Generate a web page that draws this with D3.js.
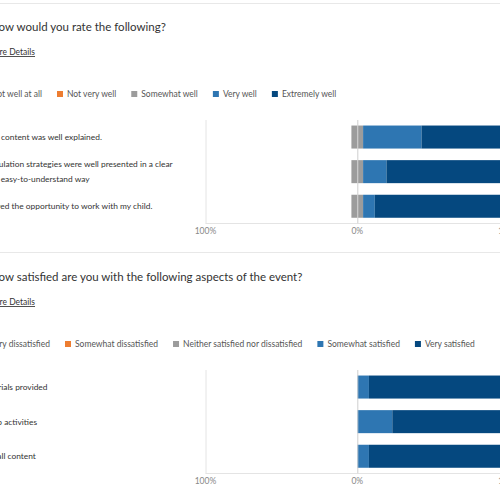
<!DOCTYPE html>
<html lang="en">
<head>
<meta charset="utf-8">
<title>Survey results</title>
<script src="https://cdn.jsdelivr.net/npm/d3@7"></script>
<style>
body { margin: 0; background: #fff; }
text { font-family: "Segoe UI", Lato, sans-serif; }
.title { font-size: 11.5px; fill: #333; }
.details { font-size: 8.5px; fill: #333; text-decoration: underline; }
.legend text { font-size: 8.5px; fill: #555; }
.label { font-size: 8.4px; fill: #333; }
.tick { font-size: 8.5px; fill: #888; }
.grid { stroke: #e4e4e4; stroke-width: 1px; }
.sep { stroke: #e8e8e8; stroke-width: 1px; }
</style>
</head>
<body>
<script>
// chart 1
var title1 = "How would you rate the following?";
var scale1 = ["Not well at all", "Not very well", "Somewhat well", "Very well", "Extremely well"];
var questions1 = [
  ["The content was well explained."],
  ["Regulation strategies were well presented in a clear", "and easy-to-understand way"],
  ["I loved the opportunity to work with my child."]
];
var values1 = [
  [0, 0, 7.7, 38.5, 53.8],
  [0, 0, 7.7, 15.4, 76.9],
  [0, 0, 7.7, 7.7, 84.6]
];

// chart 2
var title2 = "How satisfied are you with the following aspects of the event?";
var scale2 = ["Very dissatisfied", "Somewhat dissatisfied", "Neither satisfied nor dissatisfied", "Somewhat satisfied", "Very satisfied"];
var questions2 = [
  ["Materials provided"],
  ["Group activities"],
  ["Overall content"]
];
var values2 = [
  [0, 0, 0, 7.7, 92.3],
  [0, 0, 0, 23.1, 76.9],
  [0, 0, 0, 7.7, 92.3]
];

var ticks = [-100, 0, 100];
var colors = ["#c0392b", "#ed7d31", "#9c9c9c", "#2e76b2", "#05487f"];

var w = 500, h = 500;
var svg = d3.select("body").append("svg")
  .attr("width", w).attr("height", h);

svg.append("line").attr("class", "sep")
  .attr("x1", 0).attr("x2", w).attr("y1", 3.5).attr("y2", 3.5);
svg.append("line").attr("class", "sep")
  .attr("x1", 0).attr("x2", w).attr("y1", 252.5).attr("y2", 252.5);

function drawBlock(g, title, scale, questions, values, o) {
  g.append("text").attr("class", "title")
    .attr("x", o.textX).attr("y", o.top + 31).text(title);
  g.append("text").attr("class", "details")
    .attr("x", o.textX - 3).attr("y", o.top + 55).text("More Details");

  // legend, laid out from text widths
  var leg = g.append("g").attr("class", "legend");
  var cx = 0, pos = [];
  scale.forEach(function(s, i) {
    var t = leg.append("text").attr("x", cx + 10).attr("y", 3).text(s);
    var len = t.node().getComputedTextLength();
    leg.append("rect").attr("x", cx).attr("y", -3).attr("width", 6).attr("height", 6)
      .attr("fill", colors[i]);
    pos.push(t);
    cx += 10 + len + 15;
  });
  // shift so first item's text ends where the reference crop shows it
  var firstLen = pos[0].node().getComputedTextLength();
  leg.attr("transform", "translate(" + (o.legendEnd - 10 - firstLen) + "," + (o.top + 94) + ")");

  var x = d3.scaleLinear().domain([-100, 100]).range([205.5, 509]);
  var y = d3.scaleBand().domain(d3.range(questions.length))
    .range([o.top + 120, o.top + 223.3]).paddingInner(0.335).paddingOuter(0.16);

  // grid
  g.selectAll(".vgrid").data(ticks).enter().append("line")
    .attr("class", "grid")
    .attr("x1", function(d) { return x(d) + 0.5; })
    .attr("x2", function(d) { return x(d) + 0.5; })
    .attr("y1", o.top + 120).attr("y2", o.top + 223.5);
  g.append("line").attr("class", "grid")
    .attr("x1", x(-100)).attr("x2", w)
    .attr("y1", o.top + 223.5).attr("y2", o.top + 223.5);

  // diverging stacked bars
  values.forEach(function(row, r) {
    var start = -(row[0] + row[1] + row[2] / 2);
    var segs = row.map(function(v, i) {
      var s = start; start += v;
      return { i: i, x0: s, x1: start };
    }).filter(function(d) { return d.x1 > d.x0; });
    g.selectAll(".bar" + r).data(segs).enter().append("rect")
      .attr("x", function(d) { return x(d.x0); })
      .attr("width", function(d) { return x(d.x1) - x(d.x0); })
      .attr("y", y(r)).attr("height", y.bandwidth())
      .attr("fill", function(d) { return colors[d.i]; });
  });

  g.append("line")
    .attr("x1", x(0) + 0.5).attr("x2", x(0) + 0.5)
    .attr("y1", o.top + 120).attr("y2", o.top + 223.5)
    .attr("stroke", "#d8d8d8").attr("stroke-width", 1);

  // row labels
  questions.forEach(function(lines, r) {
    var cy = y(r) + y.bandwidth() / 2;
    var t = g.append("text").attr("class", "label")
      .attr("x", o.labelX)
      .attr("y", cy + 3 - (lines.length - 1) * 7.5);
    lines.forEach(function(l, k) {
      t.append("tspan").attr("x", o.labelX).attr("dy", k ? 15 : 0).text(l);
    });
  });

  g.selectAll(".tick").data(ticks).enter().append("text")
    .attr("class", "tick")
    .attr("text-anchor", "middle")
    .attr("x", function(d) { return x(d); })
    .attr("y", o.top + 234)
    .text(function(d) { return Math.abs(d) + "%"; });
}

drawBlock(svg.append("g"), title1, scale1, questions1, values1,
  { top: 0, textX: -10, legendEnd: 42, labelX: -15 });
drawBlock(svg.append("g"), title2, scale2, questions2, values2,
  { top: 250, textX: -10, legendEnd: 50, labelX: -21 });
</script>
</body>
</html>
